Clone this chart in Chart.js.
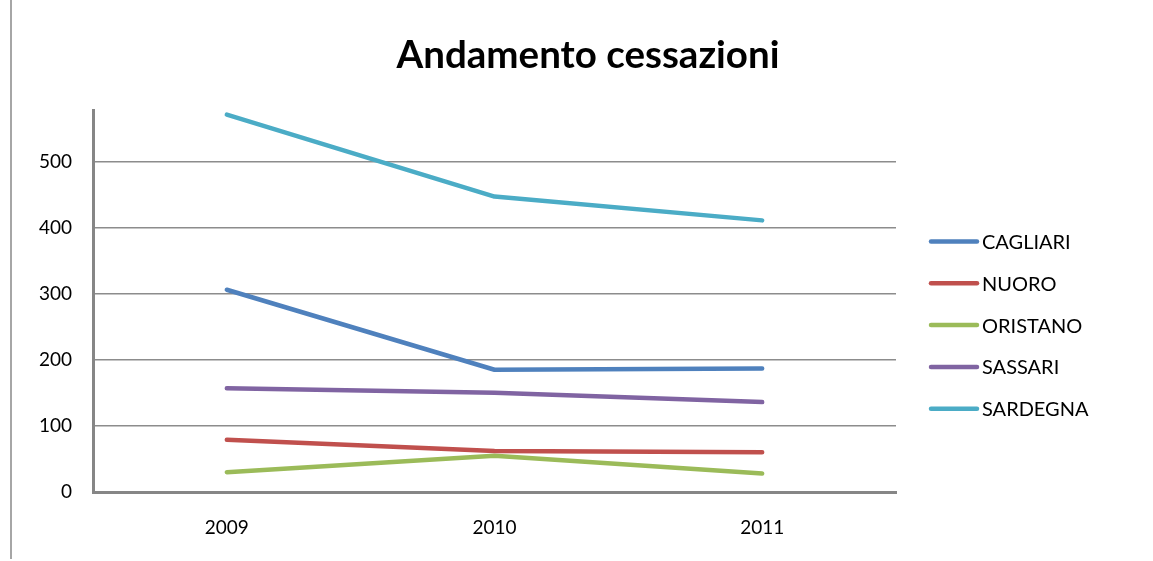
<!DOCTYPE html>
<html>
<head>
<meta charset="utf-8">
<script src="https://cdn.jsdelivr.net/npm/chart.js@4/dist/chart.umd.min.js"></script>
<style>
  html, body { margin: 0; padding: 0; background: #fff; }
  #wrap { position: relative; width: 1153px; height: 561px; }
  #border { position: absolute; left: 10px; top: 0; width: 2px; height: 559px; background: #a6a6a6; }
  canvas { position: absolute; left: 0; top: 0; }
</style>
</head>
<body>
<div id="wrap">
  <canvas id="c" width="1153" height="561"></canvas>
  <div id="border"></div>
</div>
<script>
const titleText = "Andamento cessazioni";
const years = ["2009", "2010", "2011"];
const seriesNames = ["CAGLIARI", "NUORO", "ORISTANO", "SASSARI", "SARDEGNA"];
const seriesColors = ["#4F81BD", "#C0504D", "#9BBB59", "#8064A2", "#4BACC6"];
const cagliari = [306, 185, 187];
const nuoro = [79, 62, 60];
const oristano = [30, 55, 28];
const sassari = [157, 150, 136];
const sardegna = [571, 447, 411];
const yTicks = [0, 100, 200, 300, 400, 500];

const seriesValues = [cagliari, nuoro, oristano, sassari, sardegna];
const FONT = "Lato, 'Open Sans', sans-serif";

const overlay = {
  id: 'overlay',
  afterDraw(chart) {
    const ctx = chart.ctx;
    ctx.save();
    // title
    ctx.fillStyle = '#000';
    ctx.font = "bold 38.5px " + FONT;
    ctx.textAlign = 'center';
    ctx.textBaseline = 'alphabetic';
    ctx.fillText(titleText, 588, 68);
    // legend
    ctx.font = "20px " + FONT;
    ctx.textAlign = 'left';
    ctx.textBaseline = 'middle';
    chart.data.datasets.forEach((ds, i) => {
      const y = 241.5 + i * 41.8;
      ctx.strokeStyle = ds.borderColor;
      ctx.lineWidth = 4.5;
      ctx.lineCap = 'round';
      ctx.beginPath();
      ctx.moveTo(931, y);
      ctx.lineTo(977, y);
      ctx.stroke();
      ctx.fillStyle = '#000';
      ctx.fillText(ds.label, 982, y + 1);
    });
    ctx.restore();
  }
};

new Chart(document.getElementById('c'), {
  type: 'line',
  data: {
    labels: years,
    datasets: seriesNames.map((n, i) => ({
      label: n,
      data: seriesValues[i],
      borderColor: seriesColors[i],
      backgroundColor: seriesColors[i],
      borderWidth: 4.5,
      borderCapStyle: 'round',
      borderJoinStyle: 'round',
      pointRadius: 0,
      pointHoverRadius: 0,
      tension: 0,
      fill: false
    }))
  },
  options: {
    responsive: false,
    animation: false,
    events: [],
    layout: { padding: { top: 110, right: 257, left: 0, bottom: 0 } },
    plugins: {
      legend: { display: false },
      title: { display: false },
      tooltip: { enabled: false }
    },
    scales: {
      x: {
        offset: true,
        grid: { display: false, drawTicks: false },
        border: { display: true, color: '#868686', width: 3 },
        ticks: { color: '#000', font: { family: FONT, size: 19 }, padding: 24 },
        afterFit(s) { s.height = 69; }
      },
      y: {
        min: 0,
        max: 578,
        afterBuildTicks(s) { s.ticks = yTicks.map(v => ({ value: v })); },
        grid: { color: '#8c8c8c', lineWidth: 1.5, drawTicks: false },
        border: { display: true, color: '#868686', width: 3 },
        ticks: { color: '#000', font: { family: FONT, size: 19 }, padding: 21 },
        afterFit(s) { s.width = 93; }
      }
    }
  },
  plugins: [overlay]
});
</script>
</body>
</html>
